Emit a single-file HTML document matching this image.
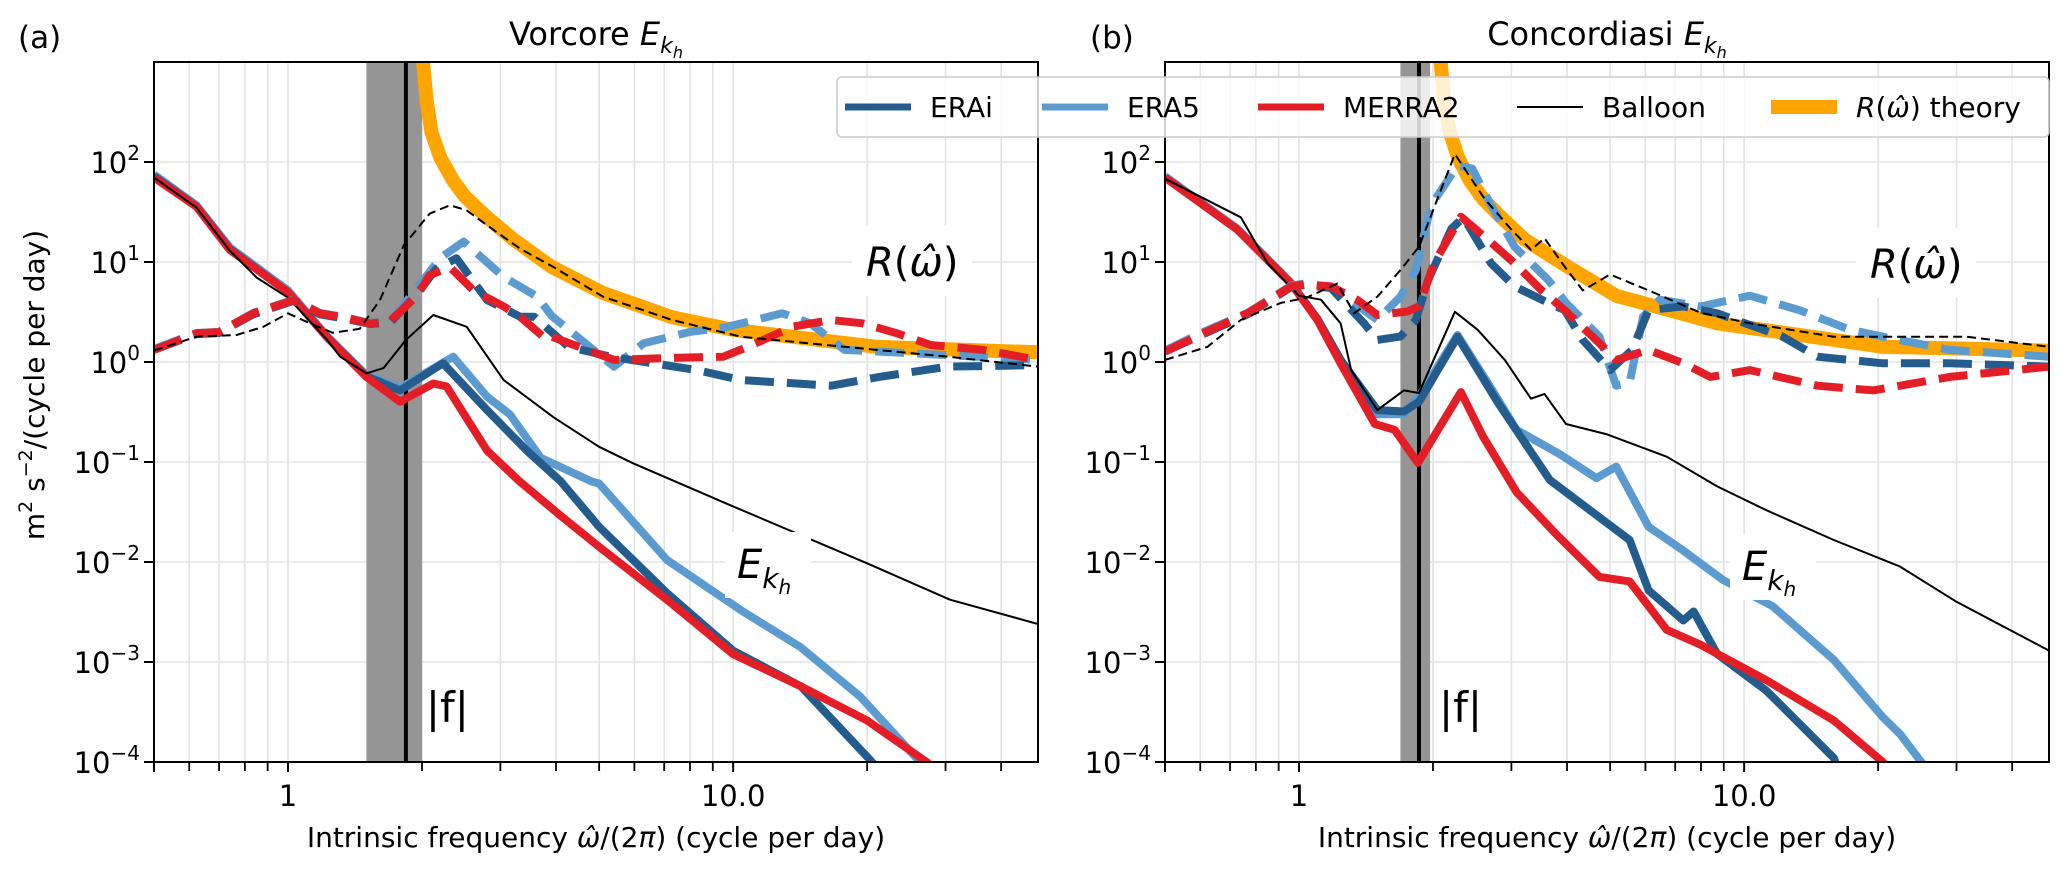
<!DOCTYPE html>
<html><head><meta charset="utf-8"><style>
html,body{margin:0;padding:0;background:#fff;}
svg{display:block;font-family:"DejaVu Sans","Liberation Sans",sans-serif;}
</style></head><body>
<svg id="fig" width="2067" height="872" viewBox="0 0 2067 872" xmlns="http://www.w3.org/2000/svg">
<defs>
<clipPath id="clipA"><rect x="154" y="62" width="884" height="700"/></clipPath>
<clipPath id="clipB"><rect x="1165" y="62" width="884" height="700"/></clipPath>
</defs>
<rect x="0" y="0" width="2067" height="872" fill="#fff"/>
<g id="panelA"></g>
<g id="panelB"></g>
<g id="legend"></g>
</svg>
<script>
// ---------- Panel A (Vorcore) data ----------
const aTheoryX=[2.01,2.05,2.1,2.2,2.35,2.5,2.8,3.2,3.9,5.1,7.3,10,21,48.4];
const aTheoryY=[1000,400,200,110,65,45,28,17,9,4.9,2.8,2.1,1.42,1.25];
const aEraiX=[0.5,0.623,0.74,1.0,1.22,1.5,1.786,2.23,2.8,3.44,4.1,5.0,7.1,10,14.2,20,22];
const aEraiY=[72,36,13.5,5.0,1.8,0.72,0.52,0.97,0.33,0.13,0.064,0.0225,0.0049,0.0013,5.7e-4,1.13e-4,7e-5];
const aEra5X=[0.5,0.623,0.74,1.0,1.22,1.5,1.786,2.35,2.8,3.15,3.7,4.8,5.0,7.1,10.4,14.2,19.3,26.3,28];
const aEra5Y=[75,37,14,5.2,1.85,0.74,0.55,1.13,0.45,0.3,0.11,0.064,0.061,0.0105,0.0033,0.0014,4.5e-4,1e-4,7e-5];
const aMerraX=[0.5,0.623,0.74,1.0,1.22,1.5,1.786,2.12,2.27,2.8,3.3,4.1,5.0,7.1,10,14.2,20,27.2,30];
const aMerraY=[70,35.7,13.2,5.0,1.8,0.71,0.40,0.61,0.57,0.13,0.065,0.029,0.0142,0.0042,0.0012,5.7e-4,2.6e-4,1e-4,7e-5];
const aBalloonX=[0.5,0.623,0.74,0.85,1.0,1.22,1.31,1.5,1.64,1.84,2.12,2.52,3.05,3.95,5.0,5.96,10,20,30.7,48.4];
const aBalloonY=[70,35,13,7,4.4,1.7,1.13,0.77,0.87,1.66,2.95,2.25,0.66,0.28,0.142,0.097,0.036,0.0097,0.0042,0.0024];
const aEraiRX=[0.5,0.623,0.70,0.836,1.03,1.18,1.35,1.53,1.70,1.95,2.15,2.39,2.80,3.32,3.57,4.27,5.3,8.3,10.4,16.6,21.3,30.4,48.4];
const aEraiRY=[1.32,1.9,1.95,3.0,4.1,3.0,2.7,2.4,2.5,4.8,8.5,10.9,4.17,2.84,2.84,1.42,1.13,0.83,0.66,0.58,0.71,0.9,0.93];
const aEra5RX=[0.5,0.623,0.70,0.836,1.03,1.18,1.35,1.53,1.70,1.95,2.2,2.48,3.05,3.63,3.91,5.4,6.3,8.0,9.5,12.9,14.9,17.8,25.5,48.4];
const aEra5RY=[1.35,1.95,2.0,3.1,4.2,3.1,2.8,2.45,2.55,5.5,11,16,7.1,4.5,2.9,0.9,1.54,2.0,2.2,3.07,2.44,1.32,1.22,1.05];
const aMerraRX=[0.5,0.623,0.70,0.836,1.03,1.18,1.35,1.53,1.70,1.95,2.08,2.31,2.61,3.05,3.32,3.82,3.91,5.4,7.3,9.5,10.8,13.6,16.6,19.5,23.3,27.8,36.4,48.4];
const aMerraRY=[1.32,1.94,1.99,3.07,4.17,3.07,2.77,2.42,2.6,4.6,7.4,8.9,5.2,3.6,2.84,1.66,1.79,1.05,1.1,1.13,1.42,2.26,2.63,2.44,1.94,1.48,1.32,1.05];
const aBalloonRX=[0.5,0.623,0.766,0.88,1.0,1.12,1.26,1.45,1.61,1.82,2.08,2.31,2.52,2.80,3.32,3.95,5.1,7.3,10.4,17.8,30.4,48.4];
const aBalloonRY=[1.3,1.79,1.86,2.25,3.07,2.44,1.96,2.15,4.2,14.7,30.4,36.9,32.9,23.3,13.6,8.9,4.5,2.63,1.79,1.42,1.13,0.9];

// ---------- Panel B (Concordiasi) data ----------
const bTheoryX=[2.08,2.12,2.18,2.28,2.42,2.6,2.8,3.2,3.95,5.16,8.7,20.5,48.4];
const bTheoryY=[1000,400,200,110,65,42,30,17,9.4,4.6,2.44,1.42,1.3];
const bEraiX=[0.5,0.728,0.96,1.10,1.24,1.50,1.72,1.86,2.27,2.80,3.66,4.73,5.53,6.1,7.3,7.7,8.7,11.2,15.9,16.5];
const bEraiY=[70,21,6.1,2.7,1.05,0.33,0.32,0.4,1.79,0.39,0.066,0.028,0.0166,0.0052,0.0026,0.0032,0.0012,5.2e-4,1.1e-4,7e-5];
const bEra5X=[0.5,0.728,0.96,1.10,1.24,1.50,1.72,1.86,2.27,2.7,3.08,3.85,4.66,5.16,6.1,7.3,8.97,11.6,15.9,20.5,22.4,25,27];
const bEra5Y=[72,21.5,6.2,2.7,1.05,0.3,0.3,0.45,1.86,0.55,0.21,0.12,0.069,0.09,0.0225,0.013,0.0066,0.0036,0.00105,2.8e-4,1.9e-4,1e-4,7e-5];
const bMerraX=[0.5,0.728,0.96,1.10,1.24,1.48,1.64,1.85,2.31,2.59,3.08,3.78,4.73,5.53,6.7,7.95,11.2,15.9,20.5,22];
const bMerraY=[70,21,6.1,2.63,0.97,0.24,0.21,0.098,0.50,0.18,0.05,0.019,0.0071,0.0064,0.0021,0.0015,6.6e-4,2.6e-4,1e-4,7e-5];
const bBalloonX=[0.5,0.74,0.85,1.0,1.12,1.24,1.31,1.50,1.72,1.86,2.24,2.52,2.9,3.32,3.56,3.98,4.9,6.7,8.7,11.2,15.9,22.4,30,48.4];
const bBalloonY=[68,28,9.7,4.6,4.2,2.44,0.83,0.33,0.52,0.49,3.18,2.1,1.05,0.43,0.48,0.24,0.19,0.113,0.057,0.033,0.0166,0.009,0.004,0.0013];
const bEraiRX=[0.5,0.61,0.766,0.96,1.03,1.18,1.40,1.50,1.69,1.83,1.95,2.2,2.34,2.7,3.05,3.63,3.95,4.34,5.0,5.6,6.1,7.3,8.7,12.2,14.6,20.5,29,48.4];
const bEraiRY=[1.27,1.9,3.0,5.6,5.9,5.5,2.44,1.66,1.8,2.63,6.6,21.5,28,9.7,5.7,3.9,3.3,1.66,0.83,1.32,3.3,3.6,3.07,1.79,1.13,0.97,0.97,0.9];
const bEra5RX=[0.5,0.61,0.766,0.96,1.03,1.18,1.40,1.50,1.69,1.83,1.98,2.27,2.45,2.7,3.05,3.63,3.98,4.73,5.16,5.53,5.93,6.46,8.0,10.3,13.3,17.3,20.5,29,48.4];
const bEra5RY=[1.3,2.0,3.1,5.8,6.1,5.6,3.3,2.63,4.5,8.3,36.9,92,86,37,14.2,6.6,3.9,1.79,0.58,0.62,2.84,4.2,3.6,4.6,3.3,2.1,1.79,1.32,1.13];
const bMerraRX=[0.5,0.61,0.766,0.96,1.03,1.18,1.35,1.50,1.75,1.86,2.01,2.31,2.61,3.05,3.5,3.95,4.73,5.16,6.1,7.3,8.4,10.3,14.6,19.5,29,48.4];
const bMerraRY=[1.27,1.94,3.07,5.7,6.0,5.7,4.2,2.95,3.2,3.6,9.7,28.4,17.9,9.7,5.25,3.3,1.54,1.05,1.32,0.97,0.71,0.83,0.58,0.52,0.71,0.9];
const bBalloonRX=[0.5,0.623,0.74,0.91,1.04,1.22,1.33,1.50,1.69,1.86,2.06,2.24,2.61,2.99,3.32,3.56,3.95,4.34,5.0,6.1,8.0,10.3,15.9,31.6,48.4];
const bBalloonRY=[1.05,1.42,2.63,3.9,4.4,6.1,3.07,4.5,8.3,14.2,46,120,43,21.5,13.2,17.3,9,5.2,7.5,5.2,3.1,2.44,1.79,1.79,1.42];

// ---------- axis settings ----------
const xTickMajor=[1,10];
const xTickLabels=["1","10.0"];
const xTickMinor=[0.6,0.7,0.8,0.9,2,3,4,5,6,7,8,9,20,30,40];
const yTickExp=[-4,-3,-2,-1,0,1,2];
const XMIN=0.5, XMAX=48.4, YMIN=1e-4, YMAX=1e3;
const TOP=62, BOT=762, PW=884;
const NS="http://www.w3.org/2000/svg";
const C_ERAI="#245c8d", C_ERA5="#5b9bd0", C_MERRA="#e31e26", C_TH="#ffa500";

function mk(tag,attrs,parent){const e=document.createElementNS(NS,tag);for(const k in attrs)e.setAttribute(k,attrs[k]);parent.appendChild(e);return e;}

function buildPanel(g,left,clipId,d,fBand,fLine,title,letter,showYLabel,labelPos){
  const X=v=>left+(Math.log10(v)-Math.log10(XMIN))/(Math.log10(XMAX)-Math.log10(XMIN))*PW;
  const Y=v=>TOP+(Math.log10(YMAX)-Math.log10(v))/(Math.log10(YMAX)-Math.log10(YMIN))*(BOT-TOP);
  const grid=mk('g',{},g);
  
  
  xTickMajor.concat(xTickMinor).forEach(v=>{mk('line',{x1:X(v),x2:X(v),y1:TOP,y2:BOT,stroke:'#e3e3e3','stroke-width':1.6},grid);});
  yTickExp.forEach(e=>{mk('line',{x1:left,x2:left+PW,y1:Y(Math.pow(10,e)),y2:Y(Math.pow(10,e)),stroke:'#e3e3e3','stroke-width':1.6},grid);});
  const band=mk('rect',{x:X(fBand[0]),y:TOP,width:X(fBand[1])-X(fBand[0]),height:BOT-TOP,fill:'#959595'},g);
  
  
  const fl=mk('line',{x1:X(fLine),x2:X(fLine),y1:TOP,y2:BOT,stroke:'#000','stroke-width':4},g);
  
  
  const cg=mk('g',{'clip-path':'url(#'+clipId+')'},g);
  function series(xs,ys,color,w,dash,name){
    let p='';xs.forEach((x,i)=>{p+=(i?'L':'M')+X(x).toFixed(1)+','+Y(ys[i]).toFixed(1);});
    const a={d:p,fill:'none',stroke:color,'stroke-width':w,'stroke-linejoin':'round'};
    if(dash)a['stroke-dasharray']=dash;
    const e=mk('path',a,cg);
    
    
  }
  series(d.thX,d.thY,C_TH,14,null,'theory-curve');
  series(d.e5X,d.e5Y,C_ERA5,8,null,'era5-ekh');
  series(d.eiX,d.eiY,C_ERAI,8,null,'erai-ekh');
  series(d.mX,d.mY,C_MERRA,8,null,'merra2-ekh');
  series(d.bX,d.bY,'#000',2,null,'balloon-ekh');
  series(d.e5RX,d.e5RY,C_ERA5,8,'29,13','era5-ratio');
  series(d.eiRX,d.eiRY,C_ERAI,8,'29,13','erai-ratio');
  series(d.mRX,d.mRY,C_MERRA,8,'29,13','merra2-ratio');
  series(d.bRX,d.bRY,'#000',2,'9,5','balloon-ratio');
  const ek=mk('g',{},g);
  
  
  mk('rect',{x:labelPos.ek[0]-12,y:labelPos.ek[1]-46,width:86,height:66,fill:'#fff'},ek);
  const t1=mk('text',{x:labelPos.ek[0],y:labelPos.ek[1],'font-size':40,'font-style':'italic'},ek);
  t1.textContent='E';
  const s1=mk('tspan',{'font-size':28,dy:10},t1);s1.textContent='k';
  const s2=mk('tspan',{'font-size':20,dy:6},t1);s2.textContent='h';
  const rl=mk('g',{},g);
  
  
  mk('rect',{x:labelPos.r[0]-14,y:labelPos.r[1]-50,width:120,height:70,fill:'#fff'},rl);
  const t2=mk('text',{x:labelPos.r[0],y:labelPos.r[1],'font-size':40},rl);
  const ti=mk('tspan',{'font-style':'italic'},t2);ti.textContent='R';
  const tp=mk('tspan',{},t2);tp.textContent='(';
  const tw=mk('tspan',{'font-style':'italic'},t2);tw.textContent='ω̂';
  const tq=mk('tspan',{},t2);tq.textContent=')';
  const fL=mk('text',{x:X(fLine)+20,y:722,'font-size':42},g);
  fL.textContent='|f|';
  
  
  const sp=mk('rect',{x:left,y:TOP,width:PW,height:BOT-TOP,fill:'none',stroke:'#000','stroke-width':2},g);
  
  
  const xt=mk('g',{},g);
  
  
  xTickMajor.forEach((v,i)=>{mk('line',{x1:X(v),x2:X(v),y1:BOT,y2:BOT+10,stroke:'#000','stroke-width':2},xt);
    const t=mk('text',{x:X(v),y:BOT+44,'font-size':29,'text-anchor':'middle'},xt);t.textContent=xTickLabels[i];});
  xTickMinor.forEach(v=>{mk('line',{x1:X(v),x2:X(v),y1:BOT,y2:BOT+9,stroke:'#000','stroke-width':1.8},xt);});
  mk('line',{x1:left,x2:left,y1:BOT,y2:BOT+10,stroke:'#000','stroke-width':2},xt);
  const xl=mk('text',{x:left+PW/2,y:847,'font-size':28,'text-anchor':'middle'},xt);
  xl.textContent='Intrinsic frequency ';
  const xi=mk('tspan',{'font-style':'italic'},xl);xi.textContent='ω̂';
  const xr=mk('tspan',{},xl);xr.textContent='/(2';
  const xp=mk('tspan',{'font-style':'italic'},xl);xp.textContent='π';
  const xe=mk('tspan',{},xl);xe.textContent=') (cycle per day)';
  
  
  const yt=mk('g',{},g);
  
  
  yTickExp.forEach(e=>{const y=Y(Math.pow(10,e));
    mk('line',{x1:left-10,x2:left,y1:y,y2:y,stroke:'#000','stroke-width':2},yt);
    const t=mk('text',{x:left-14,y:y+11,'font-size':29,'text-anchor':'end'},yt);
    t.textContent='10';
    const s=mk('tspan',{'font-size':20,dy:-13},t);s.textContent=(e<0?'−':'')+Math.abs(e);
  });
  if(showYLabel){
    const yl=mk('text',{x:0,y:0,'font-size':28,'text-anchor':'middle',transform:'translate(44,385) rotate(-90)'},yt);
    yl.textContent='m';
    const a=mk('tspan',{'font-size':19,dy:-12},yl);a.textContent='2';
    const b=mk('tspan',{dy:12},yl);b.textContent=' s';
    const c=mk('tspan',{'font-size':19,dy:-12},yl);c.textContent='−2';
    const e=mk('tspan',{dy:12},yl);e.textContent='/(cycle per day)';
    
    
  }
  const tt=mk('text',{x:left+PW/2,y:45,'font-size':32,'text-anchor':'middle'},g);
  tt.textContent=title+' ';
  const te=mk('tspan',{'font-style':'italic'},tt);te.textContent='E';
  const tk=mk('tspan',{'font-size':22,'font-style':'italic',dy:8},tt);tk.textContent='k';
  const th=mk('tspan',{'font-size':16,'font-style':'italic',dy:5},tt);th.textContent='h';
  
  
  const lt=mk('text',{x:letter[0],y:48,'font-size':31},g);
  lt.textContent=letter[1];
  
  
}

buildPanel(document.getElementById('panelA'),154,'clipA',
 {thX:aTheoryX,thY:aTheoryY,eiX:aEraiX,eiY:aEraiY,e5X:aEra5X,e5Y:aEra5Y,mX:aMerraX,mY:aMerraY,bX:aBalloonX,bY:aBalloonY,
  eiRX:aEraiRX,eiRY:aEraiRY,e5RX:aEra5RX,e5RY:aEra5RY,mRX:aMerraRX,mRY:aMerraRY,bRX:aBalloonRX,bRY:aBalloonRY},
 [1.50,2.0],1.84,'Vorcore',[18,'(a)'],true,{ek:[737,578],r:[866,276]});
buildPanel(document.getElementById('panelB'),1165,'clipB',
 {thX:bTheoryX,thY:bTheoryY,eiX:bEraiX,eiY:bEraiY,e5X:bEra5X,e5Y:bEra5Y,mX:bMerraX,mY:bMerraY,bX:bBalloonX,bY:bBalloonY,
  eiRX:bEraiRX,eiRY:bEraiRY,e5RX:bEra5RX,e5RY:bEra5RY,mRX:bMerraRX,mRY:bMerraRY,bRX:bBalloonRX,bRY:bBalloonRY},
 [1.69,1.97],1.86,'Concordiasi',[1090,'(b)'],false,{ek:[1742,580],r:[1870,278]});

const lg=document.getElementById('legend');
mk('rect',{x:837,y:77,width:1212,height:60,rx:5,fill:'rgba(255,255,255,0.82)',stroke:'#cccccc','stroke-width':1.5},lg);
const legendNames=['ERAi','ERA5','MERRA2','Balloon','theory'];
const legendColors=[C_ERAI,C_ERA5,C_MERRA,'#000',C_TH];
const legendWidths=[7,7,7,2,14];
const legendLineX=[845,1042,1258,1517,1771];
legendNames.forEach((n,i)=>{
  const eg=mk('g',{},lg);
  
  
  mk('line',{x1:legendLineX[i],x2:legendLineX[i]+66,y1:107,y2:107,stroke:legendColors[i],'stroke-width':legendWidths[i]},eg);
  const t=mk('text',{x:legendLineX[i]+85,y:117,'font-size':28},eg);
  if(n==='theory'){
    const a=mk('tspan',{'font-style':'italic'},t);a.textContent='R';
    const b=mk('tspan',{},t);b.textContent='(';
    const c=mk('tspan',{'font-style':'italic'},t);c.textContent='ω̂';
    const d=mk('tspan',{},t);d.textContent=') theory';
  } else t.textContent=n;
});
</script>
</body></html>
